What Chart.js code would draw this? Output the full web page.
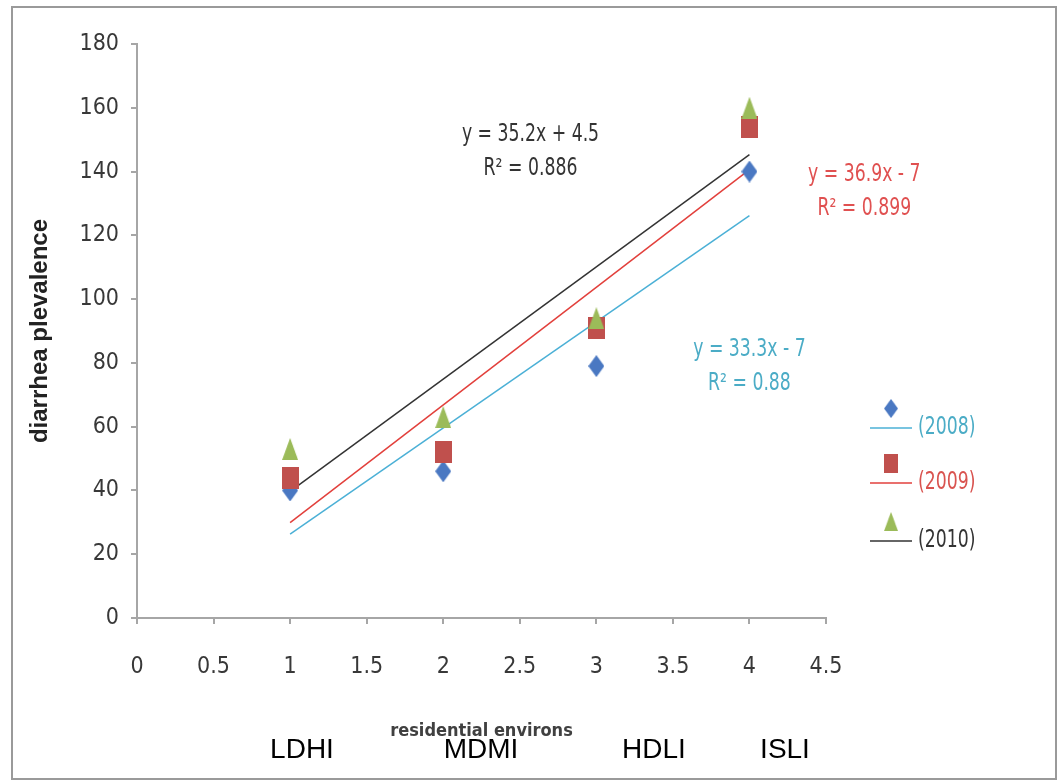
<!DOCTYPE html>
<html>
<head>
<meta charset="utf-8">
<script src="https://cdn.jsdelivr.net/npm/chart.js@4.4.0/dist/chart.umd.min.js"></script>
<style>
  html, body { margin: 0; padding: 0; background: #fff; }
  #wrap { width: 1059px; height: 783px; }
</style>
</head>
<body>
<div id="wrap"><canvas id="grafico" width="1059" height="783"></canvas></div>
<script>
// values
var years = ["(2008)", "(2009)", "(2010)"];
var xValues = [1, 2, 3, 4];
var prev2008 = [40, 46, 79, 140];
var prev2009 = [44, 52, 91, 154];
var prev2010 = [53, 63, 94, 160];
// trend lines (start at x=1, end at x=4)
var trendX = [1, 4];
var trend2008 = [26.3, 126.2];
var trend2009 = [29.9, 140.6];
var trend2010 = [39.7, 145.3];
var equations = ["y = 33.3x - 7", "y = 36.9x - 7", "y = 35.2x + 4.5"];
var rSquared = ["R\u00b2 = 0.88", "R\u00b2 = 0.899", "R\u00b2 = 0.886"];
var categories = ["LDHI", "MDMI", "HDLI", "ISLI"];
var xTickLabels = ["0", "0.5", "1", "1.5", "2", "2.5", "3", "3.5", "4", "4.5"];
var yTickLabels = ["0", "20", "40", "60", "80", "100", "120", "140", "160", "180"];

var narrow = "'Liberation Sans Narrow', 'DejaVu Sans Condensed', sans-serif";
var colBlue = "#4a78c2", colRed = "#c0504d", colGreen = "#9bbb59";
var lineCyan = "#4bb0d6", lineRed = "#e2403c", lineBlack = "#333333";

function makeMarker(shape, color, w, h) {
    var c = document.createElement("canvas");
    c.width = w;
    c.height = h;
    var g = c.getContext("2d");
    g.fillStyle = color;
    g.beginPath();
    if (shape === "diamond") {
        g.moveTo(w / 2, 0); g.lineTo(w, h / 2); g.lineTo(w / 2, h); g.lineTo(0, h / 2);
    } else if (shape === "square") {
        g.rect(0, 0, w, h);
    } else {
        g.moveTo(w / 2, 0); g.lineTo(w, h); g.lineTo(0, h);
    }
    g.closePath();
    g.fill();
    return c;
}

var mkDiamond = makeMarker("diamond", colBlue, 16, 22);
var mkSquare = makeMarker("square", colRed, 17, 22);
var mkTriangle = makeMarker("triangle", colGreen, 16, 22);

function pts(ys, xs) {
    return ys.map(function (y, i) { return { x: xs[i], y: y }; });
}

// tall, narrow text like the original
function tallText(ctx, txt, x, y) {
    ctx.save();
    ctx.translate(x, y);
    ctx.scale(0.8, 1);
    ctx.fillText(txt, 0, 0);
    ctx.restore();
}

var extras = {
    id: "extras",
    afterDraw: function (chart) {
        var ctx = chart.ctx;
        var xs = chart.scales.x, ys = chart.scales.y;
        ctx.save();

        // outer frame
        ctx.strokeStyle = "#9a9a9a";
        ctx.lineWidth = 2;
        ctx.strokeRect(12, 7, 1044, 772);

        // trend line equations
        ctx.textAlign = "center";
        ctx.textBaseline = "middle";
        ctx.font = "24px " + narrow;
        var notes = [
            { x: 4.0, y: 84, col: "#4bacc6" },
            { x: 4.75, y: 139, col: "#e05050" },
            { x: 2.57, y: 151.5, col: "#333" }
        ];
        notes.forEach(function (n, i) {
            var px = xs.getPixelForValue(n.x), py = ys.getPixelForValue(n.y);
            ctx.fillStyle = n.col;
            tallText(ctx, equations[i], px, py);
            tallText(ctx, rSquared[i], px, py + 34);
        });

        // legend
        var legMarks = [mkDiamond, mkSquare, mkTriangle];
        var legLines = [lineCyan, lineRed, lineBlack];
        var legText = ["#4bacc6", "#d9534f", "#333"];
        var rows = [428, 483, 541];
        ctx.textAlign = "left";
        rows.forEach(function (ry, i) {
            ctx.drawImage(legMarks[i], 884, ry - 29, 14, 19);
            ctx.strokeStyle = legLines[i];
            ctx.lineWidth = 1.5;
            ctx.beginPath();
            ctx.moveTo(870, ry);
            ctx.lineTo(912, ry);
            ctx.stroke();
            ctx.fillStyle = legText[i];
            tallText(ctx, years[i], 918, ry);
        });

        // category names under the axis
        ctx.fillStyle = "#000";
        ctx.textAlign = "center";
        ctx.font = "28px 'Liberation Sans', Arial, sans-serif";
        var catX = [302, 481, 654, 785];
        categories.forEach(function (c, i) {
            ctx.fillText(c, catX[i], 750);
        });
        ctx.restore();
    }
};

var ctx = document.getElementById("grafico").getContext("2d");
var grafico = new Chart(ctx, {
    type: "scatter",
    data: {
        datasets: [
            { label: "2010", data: pts(prev2010, xValues), pointStyle: mkTriangle, order: 1 },
            { label: "2009", data: pts(prev2009, xValues), pointStyle: mkSquare, order: 2 },
            { label: "2008", data: pts(prev2008, xValues), pointStyle: mkDiamond, order: 3 },
            { type: "line", label: "trend 2008", data: pts(trend2008, trendX), borderColor: lineCyan, borderWidth: 1.5, pointRadius: 0, order: 4 },
            { type: "line", label: "trend 2009", data: pts(trend2009, trendX), borderColor: lineRed, borderWidth: 1.5, pointRadius: 0, order: 5 },
            { type: "line", label: "trend 2010", data: pts(trend2010, trendX), borderColor: lineBlack, borderWidth: 1.5, pointRadius: 0, order: 6 }
        ]
    },
    options: {
        responsive: false,
        animation: false,
        layout: { padding: { left: 0, top: 44, right: 233, bottom: 0 } },
        plugins: {
            legend: { display: false },
            tooltip: { enabled: false }
        },
        scales: {
            x: {
                type: "linear",
                min: 0,
                max: 4.5,
                ticks: {
                    stepSize: 0.5,
                    padding: 29,
                    color: "#383838",
                    font: { family: narrow, size: 23 },
                    callback: function (v, i) { return xTickLabels[i]; }
                },
                grid: { drawOnChartArea: false, tickLength: 6, color: "#a6a6a6", lineWidth: 2 },
                border: { color: "#a6a6a6", width: 2 },
                title: {
                    display: true,
                    text: "residential environs",
                    color: "#404040",
                    font: { family: narrow, size: 18, weight: "bold" },
                    padding: { top: 0, bottom: 41 }
                },
                afterFit: function (s) { s.height = 165; }
            },
            y: {
                min: 0,
                max: 180,
                ticks: {
                    stepSize: 20,
                    padding: 12,
                    color: "#383838",
                    font: { family: narrow, size: 23 },
                    callback: function (v, i) { return yTickLabels[i]; }
                },
                grid: { drawOnChartArea: false, tickLength: 6, color: "#a6a6a6", lineWidth: 2 },
                border: { color: "#a6a6a6", width: 2 },
                title: {
                    display: true,
                    text: "diarrhea plevalence",
                    color: "#222",
                    font: { family: "'Liberation Sans', Arial, sans-serif", size: 24, weight: "bold" },
                    padding: { top: 26, bottom: 0 }
                },
                afterFit: function (s) { s.width = 137; }
            }
        }
    },
    plugins: [extras]
});
</script>
</body>
</html>
